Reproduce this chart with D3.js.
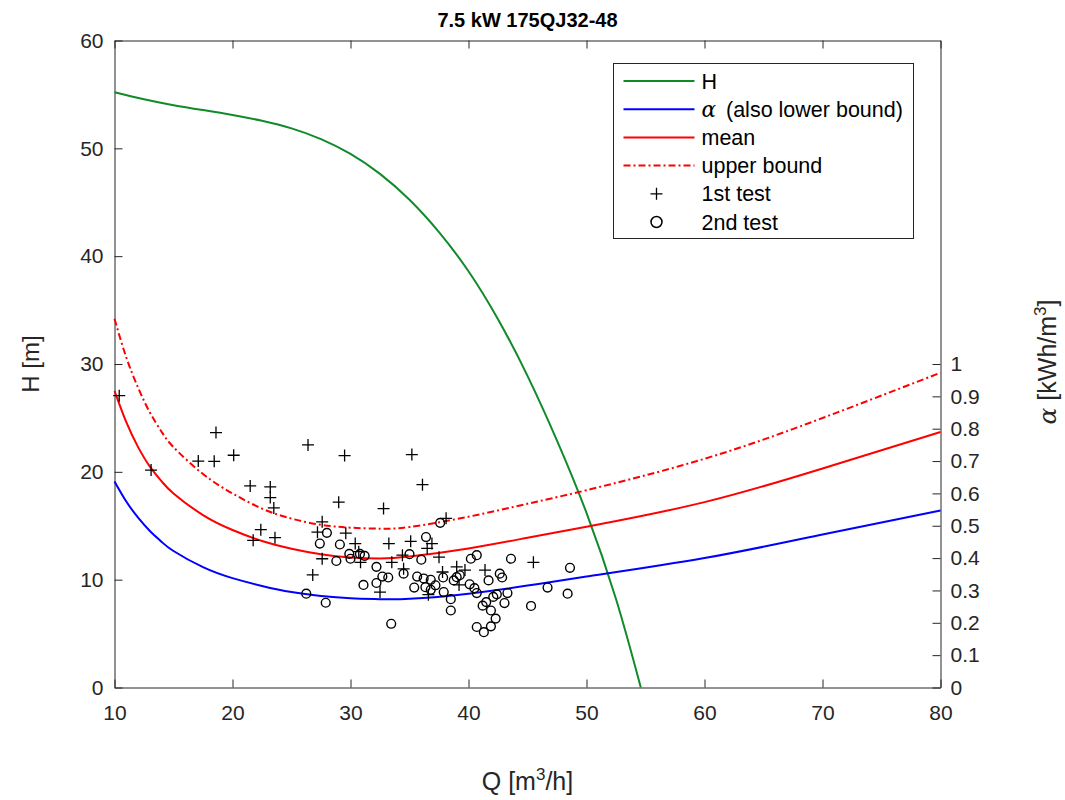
<!DOCTYPE html>
<html>
<head>
  <meta charset="utf-8">
  <script src="https://d3js.org/d3.v7.min.js"></script>
  <style>
    body { margin: 0; background: #fff; }
    svg { display: block; font-family: "Liberation Sans", Arial, Helvetica, sans-serif; }
    .axis text { fill: #262626; font-size: 21px; }
    .axis path, .axis line { stroke: #262626; }
  </style>
</head>
<body>
  <svg width="1065" height="800"></svg>
  <script>
    // data
    var qTicks = [10, 20, 30, 40, 50, 60, 70, 80];
    var hTicks = [0, 10, 20, 30, 40, 50, 60];
    var alphaTicks = [0, 0.1, 0.2, 0.3, 0.4, 0.5, 0.6, 0.7, 0.8, 0.9, 1];

    // pump head curve H(Q)
    var headQ = [10, 12.5, 15, 17.5, 20, 22.5, 25, 27.5, 30, 32.5, 35, 37.5, 40, 42.5, 45, 47.5, 50, 52.5, 54.6];
    var headH = [55.2, 54.55, 54.0, 53.55, 53.1, 52.55, 51.85, 50.85, 49.48, 47.63, 45.23, 42.23, 38.6, 34.15, 28.9, 22.9, 16.2, 8.2, 0];

    // specific energy curves alpha(Q) [kWh/m3]
    var curveQ = [10, 11, 12, 13, 14, 15, 17.5, 20, 22.5, 25, 27.5, 30, 32.5, 35, 40, 45, 50, 60, 70, 80];
    var alphaLower = [0.637, 0.575, 0.525, 0.484, 0.450, 0.422, 0.372, 0.338, 0.314, 0.295, 0.283, 0.276, 0.273, 0.274, 0.290, 0.315, 0.343, 0.400, 0.473, 0.547];
    var alphaMean = [0.917, 0.820, 0.743, 0.683, 0.637, 0.600, 0.533, 0.487, 0.453, 0.429, 0.412, 0.402, 0.399, 0.405, 0.430, 0.463, 0.497, 0.573, 0.677, 0.790];
    var alphaUpper = [1.140, 1.020, 0.927, 0.850, 0.790, 0.743, 0.660, 0.600, 0.553, 0.522, 0.503, 0.494, 0.491, 0.496, 0.528, 0.568, 0.610, 0.707, 0.833, 0.973];

    // measurements
    var test1Q = [10.4, 13.1, 17.1, 18.45, 18.6, 20.1, 21.5, 23.2, 23.2, 23.5, 22.4, 21.75, 23.6, 26.4, 26.8, 27.2, 27.6, 27.6, 29.0, 29.5, 29.6, 30.4, 30.7, 30.85, 32.5, 32.8, 33.25, 33.5, 34.4, 34.5, 35.1, 35.2, 36.1, 36.5, 36.6, 36.9, 37.5, 37.8, 38.1, 39.0, 39.2, 39.7, 41.4, 45.5];
    var test1Alpha = [0.902, 0.672, 0.700, 0.699, 0.788, 0.718, 0.623, 0.620, 0.587, 0.555, 0.488, 0.455, 0.463, 0.750, 0.348, 0.480, 0.512, 0.398, 0.573, 0.717, 0.477, 0.445, 0.420, 0.387, 0.295, 0.553, 0.445, 0.387, 0.409, 0.367, 0.452, 0.720, 0.627, 0.430, 0.287, 0.445, 0.403, 0.357, 0.523, 0.373, 0.317, 0.363, 0.363, 0.387];
    var test2Q = [26.25, 27.9, 28.0, 27.4, 29.1, 28.8, 29.9, 30.0, 30.8, 31.2, 31.1, 32.2, 32.2, 32.7, 33.2, 33.45, 34.5, 35.0, 35.4, 35.65, 36.0, 36.2, 36.35, 36.4, 36.8, 36.8, 37.2, 37.6, 37.85, 37.9, 38.5, 38.5, 38.75, 39.0, 39.26, 40.1, 40.2, 40.5, 40.7, 40.7, 40.7, 41.2, 41.3, 41.5, 41.7, 41.9, 41.9, 42.1, 42.3, 42.4, 42.65, 42.85, 43.05, 43.3, 43.6, 45.3, 46.7, 48.4, 48.6];
    var test2Alpha = [0.290, 0.262, 0.478, 0.445, 0.442, 0.391, 0.413, 0.398, 0.413, 0.407, 0.317, 0.373, 0.323, 0.343, 0.340, 0.197, 0.352, 0.412, 0.309, 0.343, 0.395, 0.337, 0.310, 0.465, 0.333, 0.302, 0.316, 0.509, 0.340, 0.295, 0.273, 0.238, 0.331, 0.341, 0.347, 0.319, 0.398, 0.307, 0.409, 0.292, 0.187, 0.253, 0.171, 0.264, 0.331, 0.238, 0.189, 0.280, 0.213, 0.288, 0.352, 0.340, 0.261, 0.292, 0.398, 0.252, 0.309, 0.290, 0.370];

    var green = "#118a2a", blue = "#0000ff", red = "#ff0000", ink = "#262626";

    // layout
    var plotLeft = 114.5, plotRight = 940.5, plotTop = 40.5, plotBottom = 687.5;

    var svg = d3.select("svg");

    // scales
    var x = d3.scaleLinear().domain([10, 80]).range([plotLeft, plotRight]);
    var yH = d3.scaleLinear().domain([0, 60]).range([plotBottom, plotTop]);
    var yA = d3.scaleLinear().domain([0, 2]).range([plotBottom, plotTop]);

    // axes (MATLAB style: ticks pointing inward)
    svg.append("g").attr("class", "axis")
      .attr("transform", "translate(0," + plotBottom + ")")
      .call(d3.axisBottom(x).tickValues(qTicks).tickSize(-8).tickSizeOuter(0).tickPadding(18));
    svg.append("g").attr("class", "axis")
      .attr("transform", "translate(0," + plotTop + ")")
      .call(d3.axisTop(x).tickValues(qTicks).tickSize(-8).tickSizeOuter(0).tickFormat(""));
    svg.append("g").attr("class", "axis")
      .attr("transform", "translate(" + plotLeft + ",0)")
      .call(d3.axisLeft(yH).tickValues(hTicks).tickSize(-8).tickSizeOuter(0).tickPadding(11));
    svg.append("g").attr("class", "axis")
      .attr("transform", "translate(" + plotRight + ",0)")
      .call(d3.axisRight(yA).tickValues(alphaTicks).tickSize(-8).tickSizeOuter(0).tickPadding(10)
        .tickFormat(function(d){ return d3.format("~g")(d); }));
    svg.selectAll(".axis .domain").attr("stroke", ink);

    // curves
    var lineA = function(vals) {
      return d3.line()
        .x(function(d, i){ return x(curveQ[i]); })
        .y(function(d){ return yA(d); })
        .curve(d3.curveNatural)(vals);
    };
    var lineH = d3.line()
      .x(function(d, i){ return x(headQ[i]); })
      .y(function(d){ return yH(d); })
      .curve(d3.curveNatural);

    svg.append("path").attr("d", lineH(headH))
      .attr("fill", "none").attr("stroke", green).attr("stroke-width", 2);
    svg.append("path").attr("d", lineA(alphaLower))
      .attr("fill", "none").attr("stroke", blue).attr("stroke-width", 2);
    svg.append("path").attr("d", lineA(alphaMean))
      .attr("fill", "none").attr("stroke", red).attr("stroke-width", 2);
    svg.append("path").attr("d", lineA(alphaUpper))
      .attr("fill", "none").attr("stroke", red).attr("stroke-width", 2)
      .attr("stroke-dasharray", "7,3,2,3");

    // markers
    var plus = "M-6,0H6M0,-6V6";
    svg.append("g").selectAll("path")
      .data(test1Q).enter().append("path")
      .attr("d", plus)
      .attr("transform", function(d, i){ return "translate(" + x(d) + "," + yA(test1Alpha[i]) + ")"; })
      .attr("fill", "none").attr("stroke", "#000").attr("stroke-width", 1.3);
    svg.append("g").selectAll("circle")
      .data(test2Q).enter().append("circle")
      .attr("cx", function(d){ return x(d); })
      .attr("cy", function(d, i){ return yA(test2Alpha[i]); })
      .attr("r", 4.4)
      .attr("fill", "none").attr("stroke", "#000").attr("stroke-width", 1.4);

    // legend
    var lg = svg.append("g").attr("transform", "translate(613.5,63.5)");
    lg.append("rect").attr("width", 300).attr("height", 175)
      .attr("fill", "#fff").attr("stroke", ink).attr("stroke-width", 1);
    var rows = [
      {label: "H", kind: "line", color: green},
      {label: "alpha", kind: "line", color: blue},
      {label: "mean", kind: "line", color: red},
      {label: "upper bound", kind: "dash", color: red},
      {label: "1st test", kind: "plus"},
      {label: "2nd test", kind: "circle"}
    ];
    rows.forEach(function(r, i) {
      var yy = 17.5 + i * 28.2;
      if (r.kind === "line" || r.kind === "dash") {
        lg.append("line").attr("x1", 10).attr("x2", 81).attr("y1", yy).attr("y2", yy)
          .attr("stroke", r.color).attr("stroke-width", 2)
          .attr("stroke-dasharray", r.kind === "dash" ? "7,3,2,3" : null);
      } else if (r.kind === "plus") {
        lg.append("path").attr("d", plus).attr("transform", "translate(43," + yy + ")")
          .attr("fill", "none").attr("stroke", "#000").attr("stroke-width", 1.3);
      } else {
        lg.append("circle").attr("cx", 43).attr("cy", yy).attr("r", 5.5)
          .attr("fill", "none").attr("stroke", "#000").attr("stroke-width", 1.5);
      }
      var t = lg.append("text").attr("x", 88).attr("y", yy + 7.5)
        .attr("font-size", 21.5).attr("fill", "#000");
      if (r.label === "alpha") {
        t.append("tspan").attr("font-family", "'DejaVu Serif', serif").attr("font-style", "italic").text("\u03b1");
        t.append("tspan").attr("dx", 4).text(" (also lower bound)");
      } else {
        t.text(r.label);
      }
    });

    // titles
    svg.append("text").attr("x", (plotLeft + plotRight) / 2).attr("y", 27)
      .attr("text-anchor", "middle").attr("font-size", 20).attr("font-weight", "bold")
      .attr("fill", "#000").text("7.5 kW 175QJ32-48");

    var xl = svg.append("text").attr("x", (plotLeft + plotRight) / 2).attr("y", 790)
      .attr("text-anchor", "middle").attr("font-size", 25).attr("fill", ink);
    xl.append("tspan").text("Q [m");
    xl.append("tspan").attr("font-size", 17).attr("dy", -10).text("3");
    xl.append("tspan").attr("dy", 10).text("/h]");

    svg.append("text").attr("transform", "translate(39,364) rotate(-90)")
      .attr("text-anchor", "middle").attr("font-size", 24).attr("fill", ink).text("H [m]");

    var yl = svg.append("text").attr("transform", "translate(1056,362) rotate(-90)")
      .attr("text-anchor", "middle").attr("font-size", 25).attr("fill", ink);
    yl.append("tspan").attr("font-family", "'DejaVu Serif', serif").attr("font-style", "italic").text("\u03b1");
    yl.append("tspan").text(" [kWh/m");
    yl.append("tspan").attr("font-size", 17).attr("dy", -10).text("3");
    yl.append("tspan").attr("dy", 10).text("]");
  </script>
</body>
</html>
